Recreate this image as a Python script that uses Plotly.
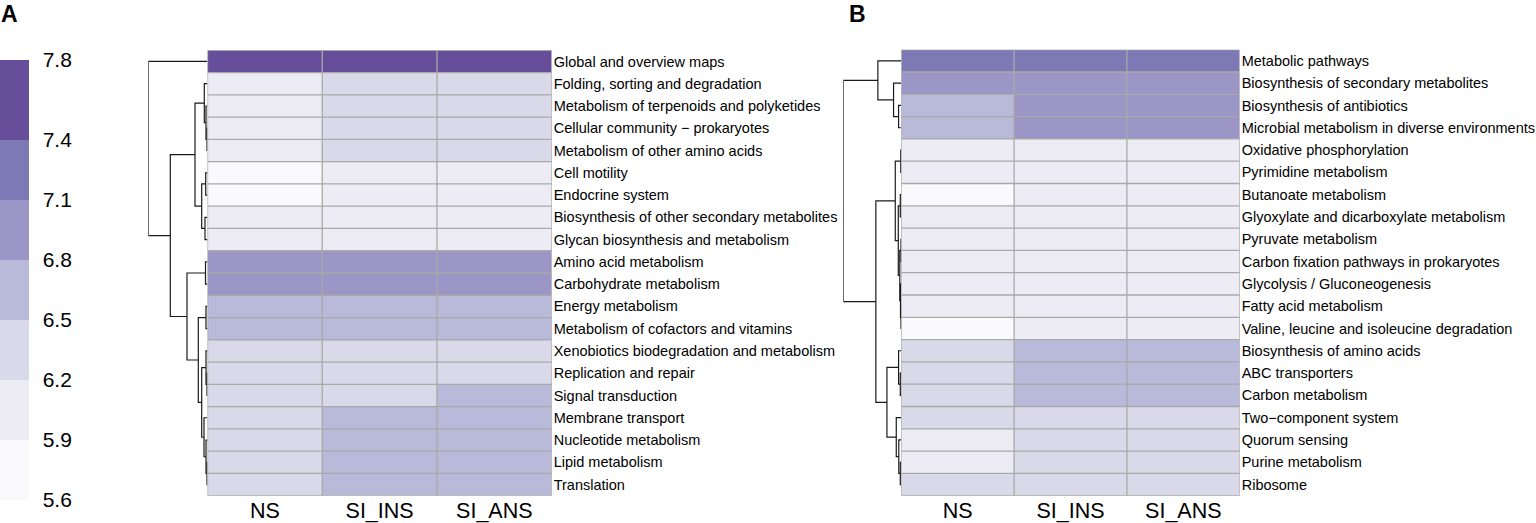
import plotly.graph_objects as go

# ---------------- data ----------------
samples = ["NS", "SI_INS", "SI_ANS"]

a_pathways = [
    "Global and overview maps", "Folding, sorting and degradation",
    "Metabolism of terpenoids and polyketides", "Cellular community \u2212 prokaryotes",
    "Metabolism of other amino acids", "Cell motility", "Endocrine system",
    "Biosynthesis of other secondary metabolites", "Glycan biosynthesis and metabolism",
    "Amino acid metabolism", "Carbohydrate metabolism", "Energy metabolism",
    "Metabolism of cofactors and vitamins", "Xenobiotics biodegradation and metabolism",
    "Replication and repair", "Signal transduction", "Membrane transport",
    "Nucleotide metabolism", "Lipid metabolism", "Translation",
]
a_ns     = [7.70, 6.15, 6.15, 6.15, 6.12, 5.85, 5.88, 6.00, 6.05, 6.95, 6.90, 6.70, 6.65, 6.40, 6.45, 6.40, 6.45, 6.45, 6.42, 6.45]
a_si_ins = [7.75, 6.25, 6.25, 6.30, 6.22, 6.05, 6.08, 6.10, 6.10, 7.00, 6.98, 6.75, 6.70, 6.45, 6.48, 6.48, 6.60, 6.60, 6.58, 6.62]
a_si_ans = [7.75, 6.25, 6.25, 6.28, 6.22, 6.05, 6.08, 6.10, 6.12, 7.00, 6.98, 6.75, 6.70, 6.45, 6.48, 6.52, 6.60, 6.62, 6.60, 6.62]

b_pathways = [
    "Metabolic pathways", "Biosynthesis of secondary metabolites",
    "Biosynthesis of antibiotics", "Microbial metabolism in diverse environments",
    "Oxidative phosphorylation", "Pyrimidine metabolism", "Butanoate metabolism",
    "Glyoxylate and dicarboxylate metabolism", "Pyruvate metabolism",
    "Carbon fixation pathways in prokaryotes", "Glycolysis / Gluconeogenesis",
    "Fatty acid metabolism", "Valine, leucine and isoleucine degradation",
    "Biosynthesis of amino acids", "ABC transporters", "Carbon metabolism",
    "Two\u2212component system", "Quorum sensing", "Purine metabolism", "Ribosome",
]
b_ns     = [7.25, 6.95, 6.70, 6.68, 6.00, 6.00, 5.85, 5.95, 5.98, 5.95, 5.96, 5.95, 5.80, 6.40, 6.35, 6.38, 6.35, 6.15, 6.15, 6.30]
b_si_ins = [7.30, 7.00, 6.90, 6.88, 6.05, 6.02, 5.95, 6.00, 6.00, 5.98, 5.99, 5.98, 5.95, 6.55, 6.60, 6.55, 6.40, 6.30, 6.30, 6.35]
b_si_ans = [7.30, 7.00, 6.90, 6.88, 6.05, 6.02, 5.95, 6.00, 6.00, 5.98, 5.99, 5.98, 5.95, 6.55, 6.60, 6.55, 6.40, 6.30, 6.30, 6.35]

# row dendrograms: (merge height, left, right); ints are row indices
a_tree = (59.2, 0, (37.2,
          (12.5, (3.2, 1, (1.5, 2, (0.5, 3, 4))), (5.8, (1.8, 5, 6), (2.5, 7, 8))),
          (20.5, (2.0, 9, 10),
                 (9.2, (1.5, 11, 12),
                       (5.8, (1.5, 13, (0.5, 14, 15)),
                             (3.5, 16, (1.5, 17, (0.5, 18, 19))))))))
b_tree = (57.7, (23.3, 0, (7.7, 1, (2.7, 2, 3))),
          (25.3,
           (6.0, (0.5, 4, 5), (3.0, (1.0, 6, 7), (1.5, (0.3, 8, 9), (0.8, 10, (0.3, 11, 12))))),
           (14.3, (2.7, 13, (1.0, 14, 15)), (5.0, 16, (2.5, 17, (1.0, 18, 19))))))

legend_breaks = [5.6, 5.9, 6.2, 6.5, 6.8, 7.1, 7.4, 7.8]
legend_colors = ["#FAF9FC", "#EDECF4", "#DAD9EA", "#B9B9DA", "#9B96C5", "#7C79B4", "#664E9B"]

# ---------------- helpers ----------------
W, H = 1536, 523
FONT = "Liberation Sans, Arial, Helvetica, sans-serif"


def fx(p):
    return p / W


def fy(p):
    return 1 - p / H


def dendro_coords(tree):
    xs, ys = [], []

    def walk(node):
        if isinstance(node, int):
            return 0.0, float(node)
        h, l, r = node
        hl, yl = walk(l)
        hr, yr = walk(r)
        xs.extend([hl, h, h, hr, None])
        ys.extend([yl, yl, yr, yr, None])
        return h, (yl + yr) / 2

    walk(tree)
    return xs, ys


lo, hi = legend_breaks[0], legend_breaks[-1]
colorscale = []
for i, c in enumerate(legend_colors):
    colorscale.append([(legend_breaks[i] - lo) / (hi - lo), c])
    colorscale.append([(legend_breaks[i + 1] - lo) / (hi - lo), c])

fig = go.Figure()

panels = [
    dict(names=a_pathways, cols=[a_ns, a_si_ins, a_si_ans], tree=a_tree,
         hx=(207.5, 551.7), hy=(50.3, 495.7), dx=148.3, ax="", label="A", lx=0),
    dict(names=b_pathways, cols=[b_ns, b_si_ins, b_si_ans], tree=b_tree,
         hx=(901.3, 1239.7), hy=(49.7, 495.7), dx=843.3, ax="3", label="B", lx=848),
]

shapes = []
annotations = []
layout_axes = {}
grid_col = "#A9A9A9"

for k, p in enumerate(panels):
    n = len(p["names"])
    hxa = "x" + p["ax"]
    hya = "y" + p["ax"]
    dnum = str(int(p["ax"] or 1) + 1)
    dxa = "x" + dnum
    dya = "y" + dnum
    z = [[p["cols"][j][i] for j in range(3)] for i in range(n)]
    fig.add_trace(go.Heatmap(
        z=z, x=list(range(3)), y=list(range(n)), coloraxis="coloraxis",
        xaxis=hxa, yaxis=hya, hoverinfo="skip"))
    dxs, dys = dendro_coords(p["tree"])
    fig.add_trace(go.Scatter(
        x=dxs, y=dys, mode="lines", line=dict(color="#1a1a1a", width=1.2),
        xaxis=dxa, yaxis=dya, showlegend=False, hoverinfo="skip"))

    xkey = "xaxis" + p["ax"]
    ykey = "yaxis" + p["ax"]
    layout_axes[xkey] = dict(
        domain=[fx(p["hx"][0]), fx(p["hx"][1])], anchor=hya, range=[-0.5, 2.5],
        tickvals=[0, 1, 2], ticktext=samples, ticks="", ticklabelstandoff=0,
        showgrid=False, zeroline=False, showline=False,
        tickfont=dict(family=FONT, size=21.5, color="#000"), fixedrange=True)
    layout_axes[ykey] = dict(
        domain=[fy(p["hy"][1]), fy(p["hy"][0])], anchor=hxa, range=[n - 0.5, -0.5],
        side="right", tickvals=list(range(n)), ticktext=p["names"], ticks="",
        ticklabelstandoff=1, showgrid=False, zeroline=False,
        showline=False, tickfont=dict(family=FONT, size=14.5, color="#000"),
        fixedrange=True)
    layout_axes["xaxis" + dnum] = dict(
        domain=[fx(p["dx"]), fx(p["hx"][0])], anchor=dya, autorange="reversed",
        visible=False, fixedrange=True)
    layout_axes["yaxis" + dnum] = dict(
        domain=[fy(p["hy"][1]), fy(p["hy"][0])], anchor=dxa, matches=hya,
        visible=False, fixedrange=True)

    for xv in [-0.5, 0.5, 1.5, 2.5]:
        shapes.append(dict(type="line", xref=hxa, yref=hya, x0=xv, x1=xv,
                           y0=-0.5, y1=n - 0.5, line=dict(color=grid_col, width=1.3)))
    for yv in range(n + 1):
        shapes.append(dict(type="line", xref=hxa, yref=hya, x0=-0.5, x1=2.5,
                           y0=yv - 0.5, y1=yv - 0.5, line=dict(color=grid_col, width=1.3)))

    annotations.append(dict(
        text="<b>%s</b>" % p["label"], x=fx(p["lx"]), y=1, xref="paper", yref="paper",
        xanchor="left", yanchor="top", showarrow=False, borderpad=0,
        font=dict(family=FONT, size=23, color="#000")))

fig.update_layout(
    width=W, height=H, margin=dict(l=0, r=0, t=0, b=0, pad=0, autoexpand=False),
    paper_bgcolor="white", plot_bgcolor="white",
    coloraxis=dict(
        colorscale=colorscale, cmin=lo, cmax=hi,
        colorbar=dict(
            x=0, xanchor="left", xpad=0, ypad=0,
            y=fy(280), yanchor="middle", len=440, lenmode="pixels",
            thickness=29, thicknessmode="pixels", outlinewidth=0,
            tickvals=legend_breaks, ticktext=["%.1f" % v for v in legend_breaks],
            ticks="outside", ticklen=10, tickcolor="rgba(0,0,0,0)",
            tickfont=dict(family=FONT, size=21, color="#000"))),
    shapes=shapes, annotations=annotations, showlegend=False,
    **layout_axes,
)

fig.write_html(
    "out.html",
    config={"displayModeBar": False},
    post_script="document.body.style.margin='0';document.body.style.overflow='hidden';",
)
